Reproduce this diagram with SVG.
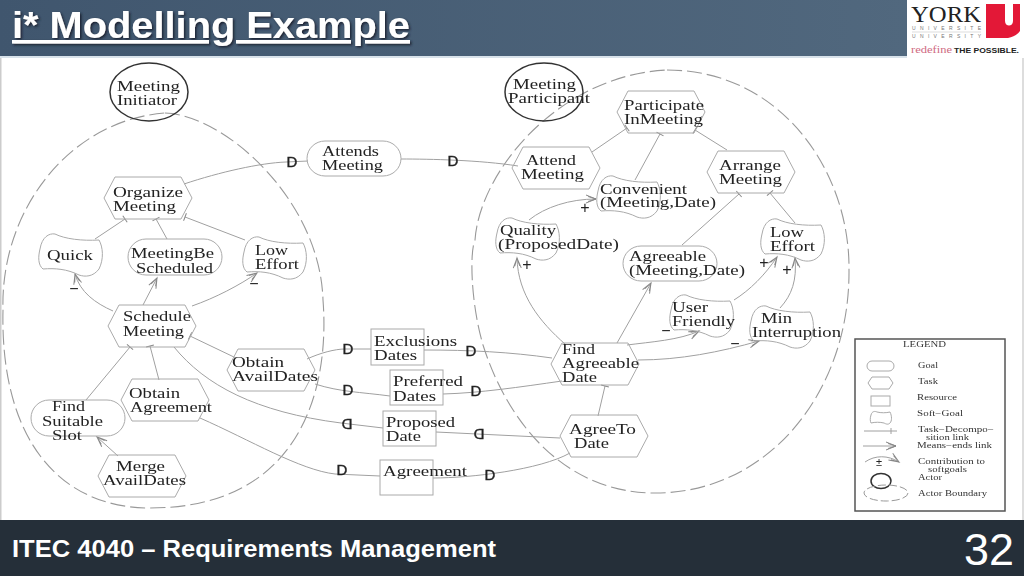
<svg xmlns="http://www.w3.org/2000/svg" xmlns:xlink="http://www.w3.org/1999/xlink" width="1024" height="576" viewBox="0 0 1024 576">
<style>
.t{font-family:"Liberation Serif","Times New Roman",serif;font-size:14.5px;fill:#222}
.l{font-family:"Liberation Serif","Times New Roman",serif;font-size:8.5px;fill:#333}
.d{font-family:"Liberation Sans",Arial,sans-serif;font-size:15px;fill:#222;stroke:#222;stroke-width:0.4;text-anchor:middle}
.s{font-family:"Liberation Sans",Arial,sans-serif;font-size:16px;fill:#222;text-anchor:middle}
.shape{fill:none;stroke:#aaa;stroke-width:1}
.actor{fill:none;stroke:#333;stroke-width:1.5}
.bound{fill:none;stroke:#999;stroke-width:1.1;stroke-dasharray:15 5}
.c{fill:none;stroke:#a0a0a0;stroke-width:1}
.a{marker-end:url(#arrow)}
.k{marker-end:url(#tick)}
</style>
<defs>
<linearGradient id="head" x1="0" x2="1" y1="0" y2="0"><stop offset="0" stop-color="#40566e"/><stop offset="1" stop-color="#51687e"/></linearGradient>
<filter id="soft" x="-5%" y="-5%" width="110%" height="110%"><feGaussianBlur stdDeviation="0.35"/></filter>
<filter id="shadow" x="-5%" y="-20%" width="110%" height="140%"><feDropShadow dx="1.5" dy="1.5" stdDeviation="0.8" flood-color="#1a2430"/></filter>
<marker id="arrow" markerUnits="userSpaceOnUse" markerWidth="14" markerHeight="12" refX="12" refY="6" orient="auto"><path d="M2,2 L12,6 L2,10 M4,3.5 L12,6 L4,8.5" fill="none" stroke="#888" stroke-width="1"/></marker>
<marker id="tick" markerUnits="userSpaceOnUse" markerWidth="4" markerHeight="12" refX="2" refY="6" orient="auto"><path d="M2,2 L2,10" fill="none" stroke="#888" stroke-width="1"/></marker>
<polygon id="hex" points="-44,0 -33,-21 33,-21 44,0 33,21 -33,21"/>
<path id="blob" d="M3,16 C5,4 12,0 18,1 C28,6 45,8 62,7 C66,14 67,26 62,36 C56,44 48,44 42,42 C30,36 18,35 6,36 C1,32 1,24 3,16 Z"/>
</defs>

<rect width="1024" height="576" fill="#fff"/>
<rect x="0" y="58" width="1.5" height="462" fill="#ccc"/>
<rect x="1022" y="58" width="2" height="462" fill="#ddd"/>
<rect y="0" width="907" height="56" fill="url(#head)"/>
<rect y="56" width="907" height="2" fill="#d8e2ea"/>
<rect y="520" width="1024" height="56" fill="#252f39"/>

<g id="title" filter="url(#shadow)"><text x="12" y="38" font-family="'Liberation Sans',Arial,sans-serif" font-size="36" font-weight="700" fill="#fff" text-decoration="underline" textLength="398" lengthAdjust="spacingAndGlyphs">i* Modelling Example</text></g>

<g id="logo">
<rect x="907" y="0" width="117" height="57" fill="#fff"/>
<text x="911" y="22" font-family="'Liberation Serif',serif" font-size="23" fill="#222" textLength="70" lengthAdjust="spacingAndGlyphs">YORK</text>
<path fill-rule="evenodd" d="M986,4 H1020 V31 C1017,35 1013,37 1008,38 H986 Z M1005,4 V21 C1005,27 1013,27 1013,21 V4 Z" fill="#e31837"/>
<text x="912" y="30" font-family="'Liberation Sans',sans-serif" font-size="5" fill="#777" textLength="69">UNIVERSITE</text>
<path d="M912,32 H981" stroke="#bbb" stroke-width="0.5"/>
<text x="912" y="38" font-family="'Liberation Sans',sans-serif" font-size="5" fill="#777" textLength="69">UNIVERSITY</text>
<text x="911" y="53" font-family="'Liberation Serif',serif" font-size="10" fill="#cf6a82" textLength="41" lengthAdjust="spacingAndGlyphs">redefine</text>
<text x="954" y="53" font-family="'Liberation Sans',sans-serif" font-size="7" font-weight="700" fill="#222" textLength="65" lengthAdjust="spacingAndGlyphs">THE POSSIBLE.</text>
</g>

<g id="picture" filter="url(#soft)">
<g id="boundaries">
<path class="bound" d="M165,113 C225,115 320,200 323,300 C330,390 300,508 150,508 C60,508 0,440 3,310 C0,210 70,120 165,113 Z"/>
<path class="bound" d="M667,70 C780,70 850,170 849,270 C850,390 770,493 655,493 C570,493 510,430 483,345 C470,300 470,250 475,240 C480,170 560,75 667,70 Z"/>
</g>

<g id="connectors">
<path class="c" d="M184,184 C220,172 260,163 286,162 L308,161"/>
<path class="c" d="M401,159 C430,159 480,160 518,166"/>
<path class="c k" d="M95,239 L125,219"/>
<path class="c k" d="M167,239 L156,219"/>
<path class="c k" d="M245,240 L185,217"/>
<path class="c a" d="M113,311 C95,303 80,292 75,274"/>
<path class="c a" d="M143,305 L157,278"/>
<path class="c a" d="M192,306 C215,298 240,285 257,273"/>
<path class="c k" d="M86,400 L130,347"/>
<path class="c k" d="M159,380 L150,346"/>
<path class="c k" d="M236,358 L190,336"/>
<path class="c a" d="M118,456 L97,437"/>
<path class="c" d="M174,347 C205,385 255,412 341,423 L383,428"/>
<path class="c" d="M436,432 L560,438"/>
<path class="c" d="M200,418 C250,440 300,470 335,474 L380,476"/>
<path class="c" d="M433,478 C470,478 540,470 570,453"/>
<path class="c" d="M307,359 C320,353 335,349 345,349 L371,349"/>
<path class="c" d="M424,350 C470,350 510,352 552,358"/>
<path class="c" d="M315,384 C340,392 360,392 390,396"/>
<path class="c" d="M443,394 C480,393 520,387 562,381"/>
<path class="c k" d="M598,416 L605,386"/>
<path class="c a" d="M617,343 L651,283"/>
<path class="c a" d="M565,344 C540,322 518,295 517,258"/>
<path class="c a" d="M529,220 C545,207 570,199 596,199"/>
<path class="c k" d="M592,152 L627,128"/>
<path class="c k" d="M635,180 L660,134"/>
<path class="c k" d="M727,150 L695,130"/>
<path class="c k" d="M682,245 L739,194"/>
<path class="c k" d="M795,223 L770,193"/>
<path class="c a" d="M734,300 C750,290 765,275 777,257"/>
<path class="c a" d="M780,308 C792,295 797,280 795,258"/>
<path class="c a" d="M627,345 C650,342 680,340 699,331"/>
<path class="c a" d="M638,360 C680,360 720,352 759,341"/>
</g>

<g id="link-labels">
<text class="d" x="292" y="167">D</text>
<text class="d" x="453" y="166">D</text>
<text class="d" x="348" y="354">D</text>
<text class="d" x="471" y="356">D</text>
<text class="d" x="348" y="395">D</text>
<text class="d" x="476" y="396">D</text>
<text class="d" transform="rotate(180 347 425)" x="347" y="431">D</text>
<text class="d" transform="rotate(180 479 435)" x="479" y="441">D</text>
<text class="d" x="342" y="475">D</text>
<text class="d" x="490" y="480">D</text>
<text class="s" x="74" y="294">−</text>
<text class="s" x="254" y="289">−</text>
<text class="s" x="585" y="213">+</text>
<text class="s" x="527" y="270">+</text>
<text class="s" x="764" y="268">+</text>
<text class="s" x="787" y="275">+</text>
<text class="s" x="666" y="336">−</text>
<text class="s" x="735" y="349">−</text>
</g>

<g id="meeting-initiator"><ellipse class="actor" cx="149" cy="92" rx="39" ry="29"/><text class="t" x="117" y="91" textLength="63" lengthAdjust="spacingAndGlyphs">Meeting</text><text class="t" x="117" y="105" textLength="60" lengthAdjust="spacingAndGlyphs">Initiator</text></g>
<g id="meeting-participant"><ellipse class="actor" cx="544" cy="92" rx="39" ry="29"/><text class="t" x="513" y="89" textLength="63" lengthAdjust="spacingAndGlyphs">Meeting</text><text class="t" x="508" y="103" textLength="82" lengthAdjust="spacingAndGlyphs">Participant</text></g>

<g id="attends-meeting"><rect class="shape" x="307" y="141" width="94" height="35" rx="18" ry="17.5"/><text class="t" x="322" y="156" textLength="57" lengthAdjust="spacingAndGlyphs">Attends</text><text class="t" x="322" y="170" textLength="61" lengthAdjust="spacingAndGlyphs">Meeting</text></g>
<g id="organize-meeting"><use href="#hex" class="shape" x="148" y="198"/><text class="t" x="113" y="197" textLength="70" lengthAdjust="spacingAndGlyphs">Organize</text><text class="t" x="113" y="211" textLength="63" lengthAdjust="spacingAndGlyphs">Meeting</text></g>
<g id="quick"><use href="#blob" class="shape" x="37" y="233"/><text class="t" x="47" y="260" textLength="46" lengthAdjust="spacingAndGlyphs">Quick</text></g>
<g id="meeting-be-scheduled"><rect class="shape" x="128" y="239" width="94" height="36" rx="18" ry="18"/><text class="t" x="131" y="258" textLength="83" lengthAdjust="spacingAndGlyphs">MeetingBe</text><text class="t" x="136" y="273" textLength="77" lengthAdjust="spacingAndGlyphs">Scheduled</text></g>
<g id="low-effort-initiator"><use href="#blob" class="shape" x="241" y="236"/><text class="t" x="255" y="255" textLength="33" lengthAdjust="spacingAndGlyphs">Low</text><text class="t" x="255" y="269" textLength="44" lengthAdjust="spacingAndGlyphs">Effort</text></g>
<g id="schedule-meeting"><use href="#hex" class="shape" x="152" y="326"/><text class="t" x="123" y="321" textLength="68" lengthAdjust="spacingAndGlyphs">Schedule</text><text class="t" x="123" y="336" textLength="61" lengthAdjust="spacingAndGlyphs">Meeting</text></g>
<g id="obtain-avail-dates"><use href="#hex" class="shape" x="271" y="370"/><text class="t" x="232" y="367" textLength="52" lengthAdjust="spacingAndGlyphs">Obtain</text><text class="t" x="232" y="381" textLength="86" lengthAdjust="spacingAndGlyphs">AvailDates</text></g>
<g id="obtain-agreement"><use href="#hex" class="shape" x="165" y="400"/><text class="t" x="129" y="398" textLength="51" lengthAdjust="spacingAndGlyphs">Obtain</text><text class="t" x="130" y="412" textLength="82" lengthAdjust="spacingAndGlyphs">Agreement</text></g>
<g id="find-suitable-slot"><rect class="shape" x="31" y="400" width="94" height="36" rx="18" ry="18"/><text class="t" x="52" y="411" textLength="33" lengthAdjust="spacingAndGlyphs">Find</text><text class="t" x="42" y="426" textLength="61" lengthAdjust="spacingAndGlyphs">Suitable</text><text class="t" x="52" y="440" textLength="30" lengthAdjust="spacingAndGlyphs">Slot</text></g>
<g id="merge-avail-dates"><use href="#hex" class="shape" x="142" y="476"/><text class="t" x="116" y="471" textLength="49" lengthAdjust="spacingAndGlyphs">Merge</text><text class="t" x="103" y="485" textLength="83" lengthAdjust="spacingAndGlyphs">AvailDates</text></g>

<g id="exclusions-dates"><rect class="shape" x="371" y="329" width="53" height="36"/><text class="t" x="374" y="346" textLength="83" lengthAdjust="spacingAndGlyphs">Exclusions</text><text class="t" x="374" y="360" textLength="43" lengthAdjust="spacingAndGlyphs">Dates</text></g>
<g id="preferred-dates"><rect class="shape" x="390" y="370" width="53" height="35"/><text class="t" x="393" y="386" textLength="70" lengthAdjust="spacingAndGlyphs">Preferred</text><text class="t" x="393" y="401" textLength="43" lengthAdjust="spacingAndGlyphs">Dates</text></g>
<g id="proposed-date"><rect class="shape" x="383" y="411" width="53" height="35"/><text class="t" x="386" y="427" textLength="69" lengthAdjust="spacingAndGlyphs">Proposed</text><text class="t" x="386" y="441" textLength="35" lengthAdjust="spacingAndGlyphs">Date</text></g>
<g id="agreement"><rect class="shape" x="380" y="460" width="53" height="35"/><text class="t" x="383" y="476" textLength="84" lengthAdjust="spacingAndGlyphs">Agreement</text></g>

<g id="participate-in-meeting"><use href="#hex" class="shape" x="661" y="112"/><text class="t" x="624" y="110" textLength="80" lengthAdjust="spacingAndGlyphs">Participate</text><text class="t" x="624" y="124" textLength="79" lengthAdjust="spacingAndGlyphs">InMeeting</text></g>
<g id="attend-meeting"><use href="#hex" class="shape" x="556" y="168"/><text class="t" x="526" y="165" textLength="50" lengthAdjust="spacingAndGlyphs">Attend</text><text class="t" x="521" y="179" textLength="63" lengthAdjust="spacingAndGlyphs">Meeting</text></g>
<g id="arrange-meeting"><use href="#hex" class="shape" x="751" y="172"/><text class="t" x="719" y="170" textLength="62" lengthAdjust="spacingAndGlyphs">Arrange</text><text class="t" x="719" y="184" textLength="63" lengthAdjust="spacingAndGlyphs">Meeting</text></g>
<g id="convenient"><use href="#blob" class="shape" x="595" y="175"/><text class="t" x="600" y="194" textLength="87" lengthAdjust="spacingAndGlyphs">Convenient</text><text class="t" x="600" y="207" textLength="116" lengthAdjust="spacingAndGlyphs">(Meeting,Date)</text></g>
<g id="quality"><use href="#blob" class="shape" x="494" y="217"/><text class="t" x="500" y="235" textLength="56" lengthAdjust="spacingAndGlyphs">Quality</text><text class="t" x="498" y="249" textLength="121" lengthAdjust="spacingAndGlyphs">(ProposedDate)</text></g>
<g id="low-effort-participant"><use href="#blob" class="shape" x="759" y="218"/><text class="t" x="770" y="237" textLength="34" lengthAdjust="spacingAndGlyphs">Low</text><text class="t" x="770" y="251" textLength="45" lengthAdjust="spacingAndGlyphs">Effort</text></g>
<g id="agreeable"><rect class="shape" x="623" y="246" width="94" height="35" rx="18" ry="17.5"/><text class="t" x="629" y="261" textLength="77" lengthAdjust="spacingAndGlyphs">Agreeable</text><text class="t" x="629" y="275" textLength="116" lengthAdjust="spacingAndGlyphs">(Meeting,Date)</text></g>
<g id="user-friendly"><use href="#blob" class="shape" x="668" y="294"/><text class="t" x="672" y="312" textLength="36" lengthAdjust="spacingAndGlyphs">User</text><text class="t" x="672" y="326" textLength="63" lengthAdjust="spacingAndGlyphs">Friendly</text></g>
<g id="min-interruption"><use href="#blob" class="shape" x="748" y="305"/><text class="t" x="761" y="323" textLength="31" lengthAdjust="spacingAndGlyphs">Min</text><text class="t" x="752" y="337" textLength="89" lengthAdjust="spacingAndGlyphs">Interruption</text></g>
<g id="find-agreeable-date"><use href="#hex" class="shape" x="595" y="364"/><text class="t" x="562" y="354" textLength="33" lengthAdjust="spacingAndGlyphs">Find</text><text class="t" x="562" y="368" textLength="77" lengthAdjust="spacingAndGlyphs">Agreeable</text><text class="t" x="562" y="382" textLength="35" lengthAdjust="spacingAndGlyphs">Date</text></g>
<g id="agree-to-date"><use href="#hex" class="shape" x="604" y="436"/><text class="t" x="569" y="434" textLength="67" lengthAdjust="spacingAndGlyphs">AgreeTo</text><text class="t" x="574" y="448" textLength="35" lengthAdjust="spacingAndGlyphs">Date</text></g>

<g id="legend">
<rect x="855" y="339" width="150" height="172" fill="#fff" stroke="#555" stroke-width="1.5"/>
<text class="l" x="903" y="347" textLength="43" lengthAdjust="spacingAndGlyphs">LEGEND</text>
<rect class="shape" x="867" y="361" width="27" height="10" rx="5" ry="5"/><text class="l" x="918" y="368" textLength="20" lengthAdjust="spacingAndGlyphs">Goal</text>
<polygon class="shape" points="868,383 872,377 889,377 893,383 889,389 872,389"/><text class="l" x="918" y="384" textLength="20" lengthAdjust="spacingAndGlyphs">Task</text>
<rect class="shape" x="871" y="396" width="19" height="10"/><text class="l" x="917" y="400" textLength="40" lengthAdjust="spacingAndGlyphs">Resource</text>
<path class="shape" d="M871,415 C872,411 875,411 877,412 C881,413 886,413 890,412 C892,416 892,421 890,423 C888,425 886,424 884,423 C880,422 875,422 871,423 C870,421 870,418 871,415 Z"/><text class="l" x="917" y="416" textLength="46" lengthAdjust="spacingAndGlyphs">Soft−Goal</text>
<path class="c" d="M864,431 H897 M891,428 V434"/><text class="l" x="918" y="432" textLength="76" lengthAdjust="spacingAndGlyphs">Task−Decompo−</text><text class="l" x="926" y="440" textLength="43" lengthAdjust="spacingAndGlyphs">sition link</text>
<path class="c a" d="M863,446 H896"/><text class="l" x="917" y="448" textLength="75" lengthAdjust="spacingAndGlyphs">Means−ends link</text>
<path class="c a" d="M865,462 C875,455 888,455 899,462"/><text x="879" y="466" font-family="'Liberation Sans',sans-serif" font-size="11" fill="#222" text-anchor="middle">±</text><text class="l" x="918" y="464" textLength="67" lengthAdjust="spacingAndGlyphs">Contribution to</text><text class="l" x="928" y="472" textLength="39" lengthAdjust="spacingAndGlyphs">softgoals</text>
<ellipse class="actor" cx="881" cy="481" rx="10" ry="7.5"/><text class="l" x="918" y="480" textLength="24" lengthAdjust="spacingAndGlyphs">Actor</text>
<ellipse cx="886" cy="493" rx="22" ry="8" fill="none" stroke="#999" stroke-dasharray="8 3"/><text class="l" x="918" y="496" textLength="69" lengthAdjust="spacingAndGlyphs">Actor Boundary</text>
</g>
</g>

<g id="footer">
<text x="12" y="557" font-family="'Liberation Sans',Arial,sans-serif" font-size="24" font-weight="700" fill="#fff" textLength="484" lengthAdjust="spacingAndGlyphs">ITEC 4040 – Requirements Management</text>
<text x="964" y="565" font-family="'Liberation Sans',Arial,sans-serif" font-size="44" fill="#fff" textLength="50" lengthAdjust="spacingAndGlyphs">32</text>
</g>
</svg>
